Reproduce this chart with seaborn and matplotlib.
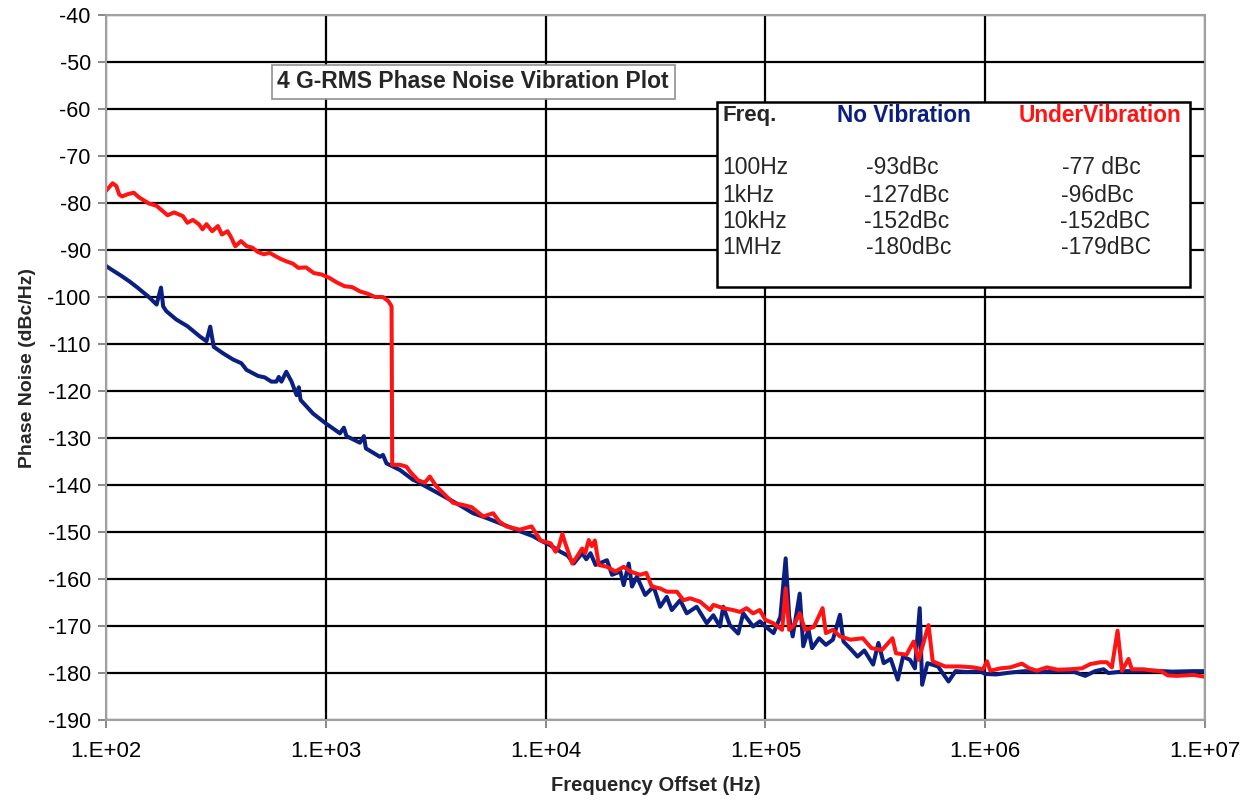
import matplotlib
matplotlib.use("Agg")
import matplotlib.pyplot as plt
from matplotlib.ticker import FixedLocator, FixedFormatter, NullLocator
import numpy as np
import pandas as pd
import seaborn as sns

# --- data (log10 of offset frequency, dBc/Hz) ---
no_vib_logf = [
    2.000, 2.036, 2.073, 2.110, 2.143, 2.190, 2.230, 2.250, 2.260, 2.274,
    2.320, 2.370, 2.427, 2.457, 2.474, 2.490, 2.533, 2.578, 2.616, 2.639,
    2.692, 2.722, 2.752, 2.775, 2.786, 2.798, 2.820, 2.844, 2.867, 2.877,
    2.885, 2.942, 3.000, 3.064, 3.082, 3.094, 3.155, 3.173, 3.182, 3.246,
    3.260, 3.276, 3.337, 3.397, 3.412, 3.490, 3.564, 3.620, 3.670, 3.730,
    3.790, 3.870, 3.943, 3.977, 4.020, 4.068, 4.100, 4.128, 4.166, 4.185,
    4.204, 4.227, 4.279, 4.302, 4.340, 4.355, 4.378, 4.393, 4.415, 4.453,
    4.491, 4.521, 4.551, 4.574, 4.612, 4.642, 4.687, 4.733, 4.763, 4.793,
    4.808, 4.838, 4.876, 4.899, 4.944, 4.975, 5.000, 5.037, 5.068, 5.092,
    5.108, 5.124, 5.156, 5.172, 5.196, 5.212, 5.244, 5.275, 5.307, 5.339,
    5.355, 5.390, 5.419, 5.450, 5.490, 5.514, 5.538, 5.570, 5.602, 5.626,
    5.658, 5.680, 5.702, 5.713, 5.737, 5.785, 5.833, 5.865, 5.920, 5.976,
    6.000, 6.050, 6.114, 6.180, 6.250, 6.320, 6.400, 6.455, 6.500, 6.538,
    6.561, 6.640, 6.766, 6.850, 6.948, 7.000,
]
no_vib_db = [
    -93.4, -94.5, -95.6, -96.8, -98.0, -99.8, -101.6, -98.0, -102.0, -103.0,
    -104.8, -106.2, -108.4, -109.4, -106.3, -110.6, -112.0, -113.3, -114.1, -115.5,
    -116.8, -117.1, -118.0, -118.0, -117.0, -118.0, -115.9, -118.0, -120.9, -119.2,
    -121.9, -124.8, -126.9, -129.0, -127.8, -129.6, -131.0, -129.6, -132.2, -134.0,
    -133.6, -135.4, -136.8, -138.9, -139.2, -141.2, -143.1, -144.6, -146.0, -147.0,
    -148.1, -149.6, -150.9, -151.8, -152.8, -154.2, -155.0, -156.7, -154.5, -155.8,
    -154.5, -157.0, -156.0, -159.1, -158.4, -161.3, -156.7, -161.6, -159.5, -163.4,
    -161.6, -165.9, -163.8, -166.6, -164.5, -167.3, -165.9, -169.4, -167.7, -170.1,
    -165.9, -169.8, -171.6, -167.3, -170.1, -169.0, -170.1, -171.5, -168.0, -155.6,
    -168.0, -172.2, -163.1, -174.3, -170.8, -174.7, -172.6, -174.0, -172.9, -167.6,
    -173.3, -175.0, -176.5, -175.2, -178.2, -173.6, -177.9, -177.0, -181.4, -176.5,
    -177.2, -179.0, -166.2, -182.5, -177.9, -178.6, -181.8, -179.6, -179.8, -179.6,
    -180.2, -180.3, -179.9, -179.6, -179.8, -179.6, -179.7, -180.6, -179.6, -179.2,
    -180.0, -179.6, -179.5, -179.7, -179.6, -179.6,
]

under_vib_logf = [
    2.000, 2.015, 2.030, 2.047, 2.060, 2.073, 2.100, 2.126, 2.150, 2.195,
    2.230, 2.280, 2.310, 2.350, 2.370, 2.395, 2.422, 2.439, 2.457, 2.483,
    2.509, 2.527, 2.553, 2.570, 2.588, 2.614, 2.640, 2.666, 2.690, 2.718,
    2.745, 2.770, 2.795, 2.820, 2.850, 2.875, 2.910, 2.945, 2.980, 3.015,
    3.050, 3.085, 3.120, 3.155, 3.190, 3.224, 3.260, 3.285, 3.299, 3.302,
    3.337, 3.367, 3.382, 3.420, 3.450, 3.473, 3.503, 3.540, 3.579, 3.620,
    3.663, 3.716, 3.761, 3.790, 3.822, 3.882, 3.936, 3.977, 4.023, 4.045,
    4.060, 4.076, 4.090, 4.121, 4.143, 4.166, 4.180, 4.196, 4.210, 4.224,
    4.242, 4.279, 4.317, 4.355, 4.385, 4.430, 4.458, 4.483, 4.521, 4.551,
    4.597, 4.627, 4.657, 4.702, 4.748, 4.763, 4.808, 4.853, 4.884, 4.914,
    4.944, 4.974, 5.000, 5.035, 5.076, 5.092, 5.108, 5.130, 5.156, 5.180,
    5.220, 5.260, 5.275, 5.307, 5.339, 5.387, 5.443, 5.482, 5.530, 5.578,
    5.594, 5.642, 5.674, 5.697, 5.742, 5.761, 5.817, 5.886, 5.947, 5.990,
    6.008, 6.023, 6.070, 6.114, 6.167, 6.200, 6.235, 6.280, 6.330, 6.387,
    6.440, 6.478, 6.523, 6.553, 6.576, 6.602, 6.622, 6.652, 6.667, 6.720,
    6.766, 6.800, 6.830, 6.872, 6.948, 7.000,
]
under_vib_db = [
    -77.4, -76.6, -75.8, -76.4, -78.2, -78.6, -78.1, -77.8, -78.8, -80.1,
    -80.6, -82.6, -82.0, -82.8, -84.2, -83.6, -84.5, -85.6, -84.5, -86.0,
    -84.9, -86.7, -86.0, -87.4, -89.2, -88.1, -89.2, -89.5, -90.4, -90.9,
    -90.6, -91.3, -91.9, -92.4, -92.9, -93.8, -93.7, -94.9, -95.2, -95.9,
    -96.9, -97.7, -97.9, -98.8, -99.3, -100.0, -100.0, -100.9, -102.0, -135.7,
    -135.7, -136.1, -137.1, -139.0, -139.5, -138.2, -140.3, -142.0, -143.8, -144.2,
    -144.7, -146.7, -146.0, -147.8, -148.8, -149.5, -148.8, -151.8, -152.4, -154.2,
    -153.1, -150.4, -152.5, -156.7, -155.2, -153.5, -154.5, -151.7, -153.0, -151.8,
    -157.0, -157.4, -158.4, -157.4, -158.4, -159.1, -158.7, -161.6, -162.0, -162.7,
    -162.7, -164.5, -164.1, -164.8, -166.6, -165.5, -166.2, -166.6, -167.0, -166.2,
    -167.3, -166.6, -168.7, -169.4, -170.8, -162.0, -170.8, -169.8, -167.3, -170.8,
    -170.2, -166.2, -171.5, -170.8, -172.2, -172.9, -172.6, -174.7, -175.1, -172.6,
    -175.8, -176.1, -173.3, -177.2, -169.8, -177.5, -178.6, -178.6, -178.8, -179.2,
    -177.5, -179.5, -179.0, -178.8, -178.0, -179.0, -179.5, -178.8, -179.3, -179.2,
    -179.0, -178.1, -177.7, -177.7, -178.8, -171.0, -179.5, -177.0, -179.2, -179.2,
    -179.5, -179.6, -180.5, -180.6, -180.4, -180.8,
]

x_ticks = [1e2, 1e3, 1e4, 1e5, 1e6, 1e7]
x_tick_labels = ["1.E+02", "1.E+03", "1.E+04", "1.E+05", "1.E+06", "1.E+07"]
y_ticks = list(range(-190, -39, 10))

table_freqs = ["100Hz", "1kHz", "10kHz", "1MHz"]
table_no_vib = ["-93dBc", "-127dBc", "-152dBc", "-180dBc"]
table_under_vib = ["-77 dBc", "-96dBc", "-152dBC", "-179dBC"]

NAVY = "#0a1f80"
RED = "#ff1414"

sns.set_theme(style="white")
plt.rcParams["font.family"] = ["Liberation Sans", "DejaVu Sans"]
plt.rcParams["axes.unicode_minus"] = False

df = pd.concat([
    pd.DataFrame({"freq": np.power(10.0, no_vib_logf), "pn": no_vib_db,
                  "series": "No Vibration"}),
    pd.DataFrame({"freq": np.power(10.0, under_vib_logf), "pn": under_vib_db,
                  "series": "UnderVibration"}),
], ignore_index=True)

fig = plt.figure(figsize=(12.49, 8.02), dpi=100)
ax = fig.add_axes([0.0849, 0.1022, 0.8799, 0.8791])

sns.lineplot(data=df, x="freq", y="pn", hue="series", sort=False,
             estimator=None, palette={"No Vibration": NAVY, "UnderVibration": RED},
             linewidth=2.9, legend=False, ax=ax)

ax.set_xscale("log")
ax.set_xlim(1e2, 1e7)
ax.set_ylim(-190, -40)
ax.xaxis.set_major_locator(FixedLocator(x_ticks))
ax.xaxis.set_major_formatter(FixedFormatter(x_tick_labels))
ax.xaxis.set_minor_locator(NullLocator())
ax.set_yticks(y_ticks)

ax.grid(True, which="major", color="black", linewidth=1.6)
ax.set_axisbelow(True)
for sp in ax.spines.values():
    sp.set_color("#a0a0a0")
    sp.set_linewidth(1.5)
ax.tick_params(axis="y", which="major", direction="out", length=6,
               width=1.3, color="#808080", labelsize=15.5, labelcolor="black",
               left=True, pad=5)
ax.tick_params(axis="x", which="major", direction="out", length=6,
               width=1.3, color="#808080", labelsize=16, labelcolor="black",
               bottom=True, pad=9)

ax.set_xlabel("Frequency Offset (Hz)", fontsize=14.5, fontweight="bold")
ax.xaxis.set_label_coords(0.5, -0.079)
ax.set_ylabel("Phase Noise (dBc/Hz)", fontsize=14, fontweight="bold", labelpad=8)

# chart title box
ax.text(0.334, 0.905, "4 G-RMS Phase Noise Vibration Plot", transform=ax.transAxes,
        ha="center", va="center", fontsize=16.5, fontweight="bold", zorder=5,
        bbox=dict(boxstyle="square,pad=0.25", fc="white", ec="#909090", lw=1.2))

# summary table box
fig.patches.append(plt.Rectangle((717 / 1249, 1 - 287 / 802), 473 / 1249, 185 / 802,
                                 transform=fig.transFigure, fc="white", ec="black",
                                 lw=1.8, zorder=5))
fig.text(722 / 1249, 1 - 115 / 802, "Freq.", ha="left", va="center",
         fontsize=16, fontweight="bold", zorder=6)
fig.text(837 / 1249, 1 - 115 / 802, "No Vibration", ha="left", va="center",
         fontsize=16.3, fontweight="bold", color=NAVY, zorder=6)
fig.text(1019 / 1249, 1 - 115 / 802, "UnderVibration", ha="left", va="center",
         fontsize=16.3, fontweight="bold", color=RED, zorder=6)
row_y = [168, 195, 222, 247]
no_vib_x = [866, 864, 864, 866]
under_x = [1062, 1061, 1060, 1061]
for i, fq in enumerate(table_freqs):
    y = 1 - row_y[i] / 802
    fig.text(722 / 1249, y, fq, ha="left", va="center", fontsize=16.5, zorder=6)
    fig.text(no_vib_x[i] / 1249, y, table_no_vib[i], ha="left", va="center",
             fontsize=16.5, zorder=6)
    fig.text(under_x[i] / 1249, y, table_under_vib[i], ha="left", va="center",
             fontsize=16.5, zorder=6)

fig.savefig("out.png", dpi=100)
